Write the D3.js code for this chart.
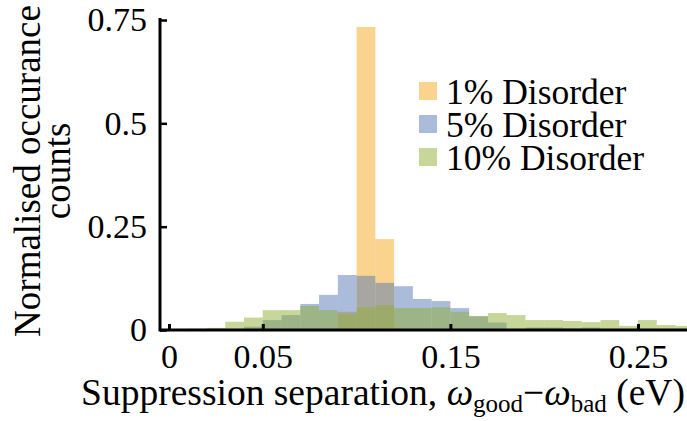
<!DOCTYPE html>
<html>
<head>
<meta charset="utf-8">
<script src="https://cdn.jsdelivr.net/npm/d3@7"></script>
<style>
  body { margin: 0; background: #fff; }
  text { font-family: "Liberation Serif", "Times New Roman", serif; fill: #000; }
</style>
</head>
<body>
<div id="chart"></div>
<script>
// bin left edges (bin width 0.01 eV)
const binStarts = [0.01,0.02,0.03,0.04,0.05,0.06,0.07,0.08,0.09,0.10,0.11,0.12,0.13,0.14,
                   0.15,0.16,0.17,0.18,0.19,0.20,0.21,0.22,0.23,0.24,0.25,0.26,0.27];
const binWidth = 0.01;

const disorder1  = [0,0,0,0,0,0,0,0,0.044,0.733,0.220,0,0,0,
                    0,0,0,0,0,0,0,0,0,0,0,0,0];
const disorder5  = [0.003,0,0,0.008,0.024,0.036,0.063,0.085,0.133,0.131,0.114,0.106,0.075,0.070,
                    0.053,0.033,0.018,0,0.006,0.006,0.004,0.006,0,0,0,0,0];
const disorder10 = [0,0.005,0.020,0.030,0.048,0.048,0.058,0.048,0.039,0.055,0.060,0.053,0.053,0.055,
                    0.044,0.034,0.041,0.036,0.024,0.024,0.022,0.019,0.024,0.010,0.024,0.012,0.010];

const seriesNames = ["1% Disorder","5% Disorder","10% Disorder"];
const seriesColors = ["#f5a71f","#5579b3","#8fad33"];

const xTicks = [0,0.05,0.15,0.25];
const yTicks = [0,0.25,0.5,0.75];

const width = 687, height = 421;

const svg = d3.select("#chart").append("svg")
    .attr("width",width)
    .attr("height",height);

const xScale = d3.scaleLinear()
    .domain([0,0.25])
    .range([169,638]);

const yScale = d3.scaleLinear()
    .domain([0,0.75])
    .range([330,20]);

// histogram bars
const allSeries = [disorder1,disorder5,disorder10];
allSeries.forEach((vals,i) => {
    const bins = binStarts.map((b,j) => ({x0:b, v:vals[j]})).filter(d => d.v > 0);
    svg.append("g")
        .selectAll("rect")
        .data(bins)
        .join("rect")
        .attr("x", d => xScale(d.x0))
        .attr("width", d => xScale(d.x0 + binWidth) - xScale(d.x0))
        .attr("y", d => yScale(d.v))
        .attr("height", d => yScale(0) - yScale(d.v))
        .attr("fill", seriesColors[i])
        .attr("fill-opacity",0.5);
});

// axes
const xAxis = svg.append("g")
    .attr("transform",`translate(0,${yScale(0)})`)
    .call(d3.axisBottom(xScale)
        .tickValues(xTicks)
        .tickFormat(d => d === 0 ? "0" : d3.format(".2f")(d))
        .tickSizeInner(-6)
        .tickSizeOuter(0)
        .tickPadding(14));
xAxis.select(".domain").attr("d","M160,0H687").attr("stroke-width",3);
xAxis.selectAll(".tick line").attr("stroke-width",3);
xAxis.selectAll("text").attr("font-size",34).attr("font-family",null);

const yAxis = svg.append("g")
    .attr("transform",`translate(160,0)`)
    .call(d3.axisLeft(yScale)
        .tickValues(yTicks)
        .tickFormat(d => d === 0 ? "0" : String(d))
        .tickSizeInner(-7)
        .tickSizeOuter(0)
        .tickPadding(13));
yAxis.select(".domain").attr("d",`M0,${yScale(0.75)-2}V${yScale(0)+1.5}`).attr("stroke-width",3);
yAxis.selectAll(".tick line").attr("stroke-width",2.5);
yAxis.selectAll("text").attr("font-size",34).attr("font-family",null);

// x label
const xl = svg.append("text")
    .attr("x",383)
    .attr("y",405)
    .attr("text-anchor","middle")
    .attr("font-size",37.5);
xl.append("tspan").text("Suppression separation, ");
xl.append("tspan").attr("font-style","italic").text("ω");
xl.append("tspan").attr("font-size",25).attr("dy",7).text("good");
xl.append("tspan").attr("dy",-7).text("−");
xl.append("tspan").attr("font-style","italic").text("ω");
xl.append("tspan").attr("font-size",25).attr("dy",7).text("bad");
xl.append("tspan").attr("dy",-7).text(" (eV)");

// y label
const yl = svg.append("text")
    .attr("transform","translate(40,171) rotate(-90)")
    .attr("text-anchor","middle")
    .attr("font-size",37);
yl.append("tspan").attr("x",0).attr("y",0).text("Normalised occurance");
yl.append("tspan").attr("x",0).attr("y",30).text("counts");

// legend
const legend = svg.append("g");
seriesNames.forEach((name,i) => {
    const by = 104 + i*33;
    legend.append("rect")
        .attr("x",419)
        .attr("y",by - 22)
        .attr("width",18)
        .attr("height",18)
        .attr("fill",seriesColors[i])
        .attr("fill-opacity",0.5);
    legend.append("text")
        .attr("x",446)
        .attr("y",by)
        .attr("font-size",35.5)
        .text(name);
});
</script>
</body>
</html>
